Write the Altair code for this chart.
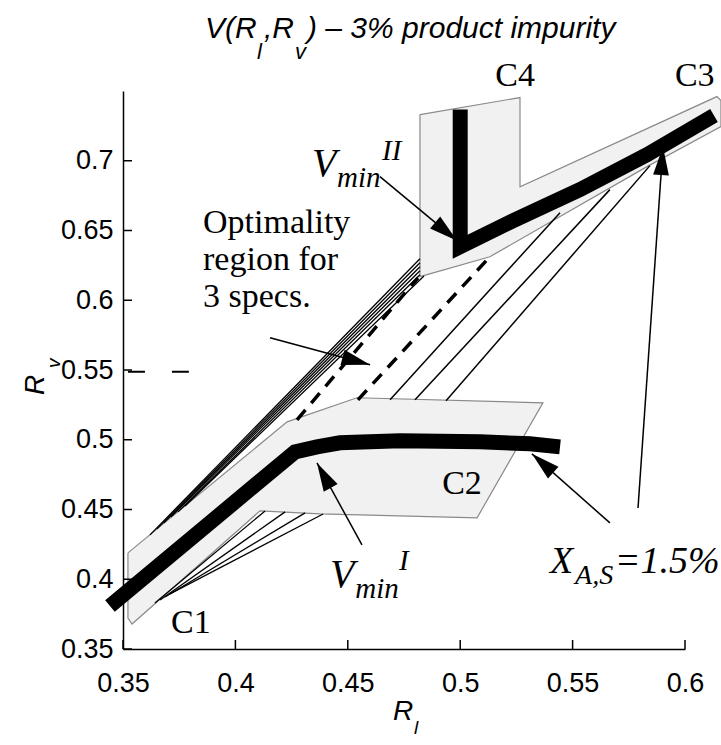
import math
import altair as alt
import pandas as pd

# ---------------- data (axis units) ----------------
X_DOMAIN = [0.35, 0.6]
Y_DOMAIN = [0.35, 0.75]
x_ticks = [0.35, 0.4, 0.45, 0.5, 0.55, 0.6]
y_ticks = [0.35, 0.4, 0.45, 0.5, 0.55, 0.6, 0.65, 0.7]

# shaded regions (C1+C2 and C4+C3)
c12_x = [0.3522, 0.4230, 0.4541, 0.5368, 0.5075, 0.4376, 0.4109, 0.3540, 0.3522]
c12_y = [0.4189, 0.5128, 0.5301, 0.5265, 0.4440, 0.4468, 0.4490, 0.3679, 0.3722]
c34_x = [0.4821, 0.5266, 0.5266, 0.6142, 0.6160, 0.6160, 0.5831, 0.5132, 0.4821]
c34_y = [0.7331, 0.7453, 0.6814, 0.7460, 0.7431, 0.7245, 0.6958, 0.6312, 0.6169]

# thick minimum-energy curves
vmin1_x = [0.3442, 0.4265, 0.4363, 0.4465, 0.4732, 0.5088, 0.5310, 0.5444]
vmin1_y = [0.3808, 0.4913, 0.4949, 0.4978, 0.4992, 0.4985, 0.4971, 0.4949]
vmin2_x = [0.5000, 0.5000, 0.5235, 0.5533, 0.5831, 0.6129]
vmin2_y = [0.7367, 0.6384, 0.6570, 0.6793, 0.7044, 0.7324]

# thin contour lines
bundle_x0 = [0.3620, 0.3651, 0.3682, 0.3714, 0.3745, 0.3776]
bundle_y0 = [0.4318, 0.4361, 0.4404, 0.4447, 0.4483, 0.4525]
bundle_x1 = [0.4821, 0.4821, 0.4821, 0.4821, 0.4821, 0.4839]
bundle_y1 = [0.6298, 0.6269, 0.6240, 0.6212, 0.6183, 0.6174]

fan_x0 = [0.3642, 0.3665, 0.3687, 0.3709]
fan_y0 = [0.3830, 0.3851, 0.3873, 0.3895]
fan_x1 = [0.4132, 0.4221, 0.4310, 0.4390]
fan_y1 = [0.4490, 0.4483, 0.4476, 0.4468]

tl_x0 = [0.4688, 0.4799, 0.4937]
tl_y0 = [0.5286, 0.5286, 0.5279]
tl_x1 = [0.5444, 0.5666, 0.5844]
tl_y1 = [0.6628, 0.6793, 0.6965]

# thick dashed boundaries of the optimality region
dash_x0 = [0.4274, 0.4545]
dash_y0 = [0.5143, 0.5286]
dash_x1 = [0.4812, 0.5132]
dash_y1 = [0.6161, 0.6312]

# short dashed marker at Rv = 0.55
mark_x0 = [0.3522]
mark_x1 = [0.3793]
mark_y = [0.5487]

# annotation arrows (start -> tip)
arr_x0 = [0.4643, 0.4563, 0.4154, 0.5666, 0.5791]
arr_y0 = [0.6886, 0.4246, 0.5731, 0.4404, 0.4511]
arr_x1 = [0.4986, 0.4363, 0.4599, 0.5319, 0.5902]
arr_y1 = [0.6427, 0.4834, 0.5537, 0.4899, 0.7101]

# region labels
c_text = ["C1", "C2", "C3", "C4"]
c_x = [0.3802, 0.5008, 0.5955, 0.5244]
c_y = [0.3687, 0.4684, 0.7611, 0.7611]
c_align = ["center", "center", "left", "center"]

# ---------------- layout ----------------
W, H = 562, 558
LEFT, TOP = 123, 91

xs = alt.Scale(domain=X_DOMAIN, nice=False, zero=False)
ys = alt.Scale(domain=Y_DOMAIN, nice=False, zero=False)
x_axis = alt.Axis(values=x_ticks, format=".2~f", tickSize=0, grid=False, title=None,
                  domainColor="black", domainWidth=1.5, labelFont="Liberation Sans",
                  labelFontSize=27, labelColor="black", labelPadding=21, labelFlush=False,
                  labelOverlap=False)
y_axis = alt.Axis(values=y_ticks, format=".2~f", tickSize=0, grid=False, title=None,
                  domainColor="black", domainWidth=1.5, labelFont="Liberation Sans",
                  labelFontSize=27, labelColor="black", labelPadding=10, labelFlush=False,
                  labelOverlap=False)
X = alt.X("x:Q", scale=xs, axis=x_axis)
Y = alt.Y("y:Q", scale=ys, axis=y_axis)

# polygons
rows = []
for pid, (px, py) in enumerate([(c12_x, c12_y), (c34_x, c34_y)]):
    pts = list(zip(px, py)) + [(px[0], py[0])]
    for i, (a, b) in enumerate(pts):
        rows.append({"pid": pid, "i": i, "x": a, "y": b})
poly_df = pd.DataFrame(rows)
polys = alt.Chart(poly_df).mark_line(fill="#f1f1f1", stroke="#8a8a8a", strokeWidth=1.2,
                                     clip=False).encode(x=X, y=Y, order="i:Q", detail="pid:N")

def seg_df(x0, y0, x1, y1):
    return pd.DataFrame({"x": x0, "y": y0, "x2": x1, "y2": y1})

def seg_layer(df, **kw):
    return alt.Chart(df).mark_rule(clip=False, **kw).encode(
        x=X, y=Y, x2="x2:Q", y2="y2:Q")

bundle = seg_layer(seg_df(bundle_x0, bundle_y0, bundle_x1, bundle_y1), color="black", strokeWidth=1.3)
fan = seg_layer(seg_df(fan_x0, fan_y0, fan_x1, fan_y1), color="black", strokeWidth=1.3)
tl = seg_layer(seg_df(tl_x0, tl_y0, tl_x1, tl_y1), color="black", strokeWidth=1.5)
dashed = seg_layer(seg_df(dash_x0, dash_y0, dash_x1, dash_y1), color="black", strokeWidth=3.5,
                   strokeDash=[13, 9])
marker = seg_layer(seg_df(mark_x0, mark_y, mark_x1, mark_y), color="black", strokeWidth=2,
                   strokeDash=[17, 27])
arrows = seg_layer(seg_df(arr_x0, arr_y0, arr_x1, arr_y1), color="black", strokeWidth=1.5)

def head_angle(a0, b0, a1, b1):
    dx = (a1 - a0) / (X_DOMAIN[1] - X_DOMAIN[0]) * W
    dy = -(b1 - b0) / (Y_DOMAIN[1] - Y_DOMAIN[0]) * H
    return math.degrees(math.atan2(dx, -dy)) % 360

head_df = pd.DataFrame({"x": arr_x1, "y": arr_y1,
                        "ang": [head_angle(*v) for v in zip(arr_x0, arr_y0, arr_x1, arr_y1)]})
heads = alt.Chart(head_df).mark_point(shape="M0,0L0.5,1.8L-0.5,1.8Z", filled=True, color="black",
                                      opacity=1, size=1000, clip=False).encode(
    x=X, y=Y, angle=alt.Angle("ang:Q", scale=None))

def curve(xv, yv):
    df = pd.DataFrame({"x": xv, "y": yv, "i": list(range(len(xv)))})
    return alt.Chart(df).mark_line(color="black", strokeWidth=15, strokeCap="butt",
                                   strokeJoin="miter", clip=False).encode(x=X, y=Y, order="i:Q")

vmin1 = curve(vmin1_x, vmin1_y)
vmin2 = curve(vmin2_x, vmin2_y)

# inward ticks
xt = alt.Chart(pd.DataFrame({"x": x_ticks})).mark_rule(color="black", strokeWidth=1.5).encode(
    x=X, y=alt.value(H), y2=alt.value(H - 9))
yt = alt.Chart(pd.DataFrame({"y": y_ticks})).mark_rule(color="black", strokeWidth=1.5).encode(
    y=Y, x=alt.value(0), x2=alt.value(9))

# region labels
clabels = []
for t, a, b, al in zip(c_text, c_x, c_y, c_align):
    clabels.append(alt.Chart(pd.DataFrame({"x": [a], "y": [b], "t": [t]})).mark_text(
        font="Liberation Serif", fontSize=34, align=al, baseline="middle", color="black",
        clip=False).encode(x=X, y=Y, text="t:N"))

def dtext(t, a, b, size, style="italic", font="Liberation Serif", align="left", baseline="alphabetic", lh=None):
    kw = dict(font=font, fontSize=size, fontStyle=style, align=align, baseline=baseline,
              color="black", clip=False)
    if lh is not None:
        kw["lineHeight"] = lh
    return alt.Chart(pd.DataFrame({"x": [a], "y": [b], "t": [t]})).mark_text(**kw).encode(
        x=X, y=Y, text="t:N")

ann = [
    dtext(["Optimality", "region for", "3 specs."], 0.3856, 0.6484, 34, style="normal", lh=37),
    dtext("V", 0.4421, 0.3945, 40),
    dtext("min", 0.4533, 0.3866, 29),
    dtext("I", 0.4728, 0.4067, 29),
    dtext("V", 0.4341, 0.6893, 40),
    dtext("min", 0.4452, 0.6814, 29),
    dtext("II", 0.4652, 0.7008, 29),
    dtext("X", 0.5399, 0.4045, 38),
    dtext("A,S", 0.5511, 0.3966, 28),
    dtext("=1.5%", 0.5688, 0.4045, 38),
]

def ptext(t, px, py, size, style="italic", font="Liberation Sans", angle=0, align="left"):
    kw = dict(font=font, fontSize=size, fontStyle=style, align=align, baseline="alphabetic",
              color="black", clip=False)
    if angle:
        kw["angle"] = angle
    return alt.Chart(pd.DataFrame({"t": [t]})).mark_text(**kw).encode(
        x=alt.value(px - LEFT), y=alt.value(py - TOP), text="t:N")

titles = [
    ptext("V(R", 205, 38, 30),
    ptext("l", 257, 59, 22),
    ptext(",R", 264, 38, 30),
    ptext("v", 295, 59, 22),
    ptext(") \u2013 3% product impurity", 307, 38, 30),
    ptext("R", 393, 720, 28),
    ptext("l", 414, 734, 19),
    ptext("R", 44, 395, 28, angle=270),
    ptext("v", 60, 368, 19, angle=270),
]

chart = alt.layer(
    polys, bundle, fan, tl, dashed, marker, vmin1, vmin2, arrows, heads, xt, yt,
    *clabels, *ann, *titles
).properties(
    width=W, height=H,
    padding={"left": LEFT, "top": TOP, "right": 721 - LEFT - W, "bottom": 745 - TOP - H},
    autosize=alt.AutoSizeParams(type="none"),
    background="white",
).configure_view(stroke=None)

chart.save("out.html", embed_options={"renderer": "svg", "actions": False})
